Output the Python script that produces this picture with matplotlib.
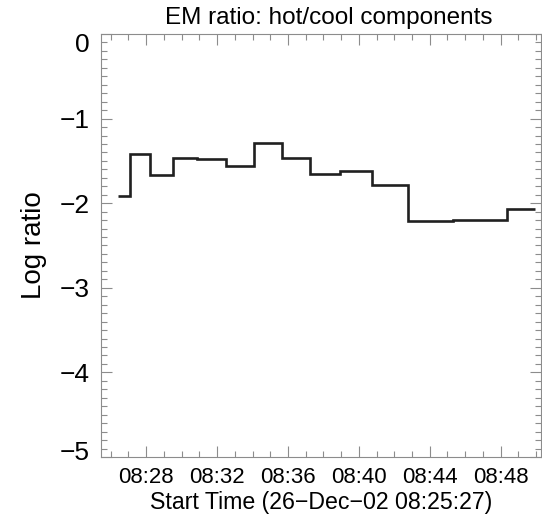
import numpy as np
import matplotlib.pyplot as plt
from matplotlib.ticker import MultipleLocator, FuncFormatter
from matplotlib.transforms import ScaledTranslation

plt.rcParams['font.family'] = ['Liberation Sans', 'DejaVu Sans']

# bin edges, minutes after 08:00 (26-Dec-02)
edges = [26.43, 27.09, 28.24, 29.49, 30.87, 32.48, 34.08, 35.67,
         37.22, 38.92, 40.73, 42.80, 45.29, 48.35, 49.96]
# log(EM hot / EM cool) in each bin
ratio = [-1.91, -1.42, -1.67, -1.46, -1.48, -1.56, -1.29, -1.47,
         -1.65, -1.62, -1.79, -2.21, -2.20, -2.07]
t_start = 25 + 27/60.0
t_end = 50.28

fig = plt.figure(figsize=(5.42, 5.16), dpi=100)
ax = fig.add_axes([101/542, 1-457/516, 440/542, 423/516])

ax.stairs(ratio, edges, baseline=None, color='#202020', lw=1.9)

ax.set_xlim(t_start, t_end)
ax.set_ylim(-5, 0)
ax.xaxis.set_major_locator(MultipleLocator(4))
ax.xaxis.set_minor_locator(MultipleLocator(1))
ax.xaxis.set_major_formatter(FuncFormatter(lambda v, p: '08:%02d' % int(round(v))))
ax.yaxis.set_major_locator(MultipleLocator(1))
ax.yaxis.set_minor_locator(MultipleLocator(0.1))
ax.yaxis.set_major_formatter(FuncFormatter(lambda v, p: ('%d' % round(v)).replace('-', '\u2212')))

for s in ax.spines.values():
    s.set_color('#8c8c8c')
    s.set_linewidth(0.8)
ax.tick_params(which='both', direction='in', top=True, right=True, color='#8c8c8c', width=0.8)
ax.tick_params(which='major', length=8)
ax.tick_params(which='minor', length=4)
ax.tick_params(axis='y', labelsize=19, pad=8)
ax.tick_params(axis='x', labelsize=16, pad=7)

# IDL keeps the end labels inside the axis range
fig.canvas.draw()
for tk in ax.yaxis.get_major_ticks():
    v = tk.get_loc()
    dy = 0
    if abs(v - 0) < 1e-6:
        dy = -9
    elif abs(v + 5) < 1e-6:
        dy = 7
    if dy:
        lab = tk.label1
        lab.set_transform(lab.get_transform() + ScaledTranslation(0, dy/100, fig.dpi_scale_trans))

ax.set_xlabel('Start Time (26\u2212Dec\u221202 08:25:27)', fontsize=16.7, labelpad=2)
ax.set_ylabel('Log ratio', fontsize=20, labelpad=9)
fig.text(329/542, 1-18/516, 'EM ratio: hot/cool components', fontsize=17.5,
         ha='center', va='center')

fig.savefig('out.png', dpi=100)
